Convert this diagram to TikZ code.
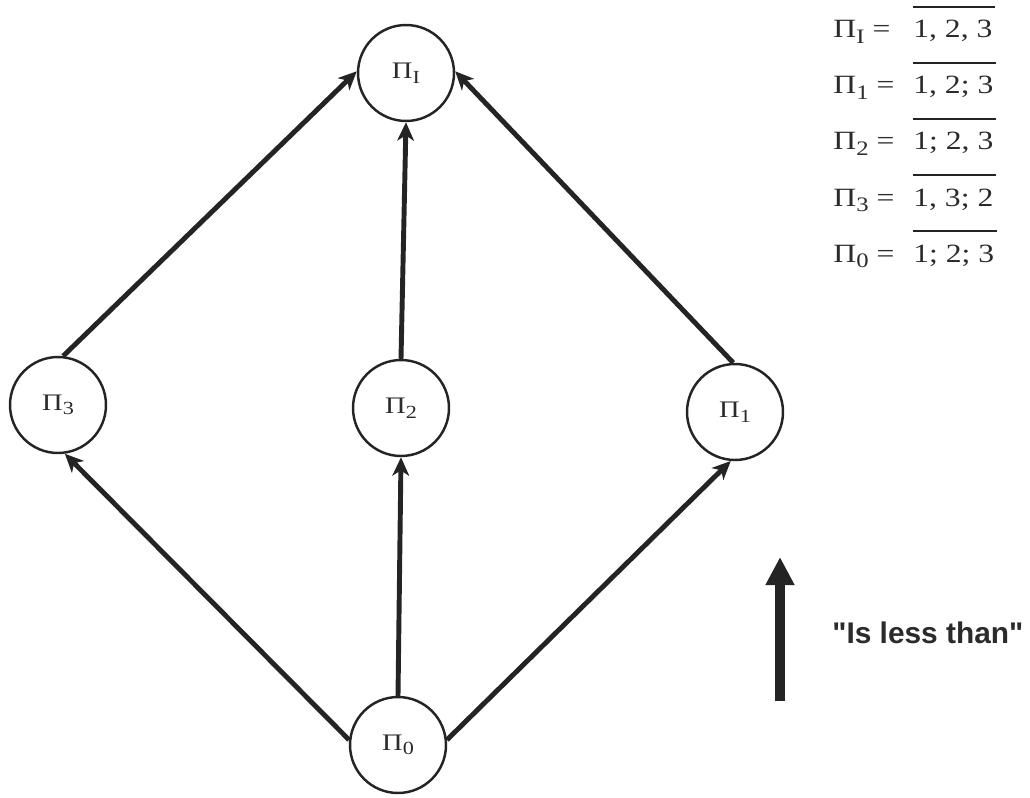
\documentclass[tikz,border=0pt]{standalone}
\usepackage{fontspec}
\usepackage{graphicx}
\setmainfont{Liberation Serif}
\newfontfamily\lgfont[FakeStretch=1.2]{Liberation Serif}
\newfontfamily\capfont{Liberation Sans}
\usetikzlibrary{arrows.meta}
\definecolor{ink}{HTML}{242424}
\definecolor{txt}{HTML}{2B2B2B}
% Pi with a lowered, slightly reduced index
\newcommand\Pisub[1]{Π\kern0.01em\raisebox{-0.42ex}{\scalebox{0.78}{#1}}}
\begin{document}
\begin{tikzpicture}[x=0.02cm,y=-0.02cm,
  state/.style={circle,draw=ink,line width=1.4pt,minimum size=1.92cm,inner sep=0pt,
    font=\lgfont\fontsize{13.5}{15}\selectfont,text=txt},
  edge/.style={draw=ink,line width=2.8pt,-{Stealth[length=10.5pt,width=9.5pt,inset=3pt]}},
  lhs/.style={anchor=base west,inner sep=0pt,font=\lgfont\fontsize{15}{18}\selectfont,text=txt},
  rhs/.style={lhs},
  bar/.style={draw=ink,line width=1.3pt},
  order/.style={draw=ink,line width=5.7pt,-{Triangle[length=16pt,width=15.5pt]}},
]
\useasboundingbox (0,0) rectangle (1030,797);

% partitions of {1,2,3}
\node[state] (pI) at (406,73)  {\Pisub{I}};
\node[state] (p3) at (58,405)  {\Pisub{3}};
\node[state] (p2) at (401,408) {\Pisub{2}};
\node[state] (p1) at (735,412) {\Pisub{1}};
\node[state] (p0) at (398,745) {\Pisub{0}};

% order relation
\draw[edge] (p0.174) -- (p3.278);
\draw[edge] (p0.north) -- (p2.south);
\draw[edge] (p0.6) -- (p1.265);
\draw[edge] (p3.84) -- (pI.178);
\draw[edge] (p2.north) -- (pI.south);
\draw[edge] (p1.92) -- (pI.2);

% definitions
\node[lhs] (lI) at (833,38)  {\Pisub{I} =};
\node[rhs] (vI) at (913,38)  {1, 2, 3};
\node[lhs] (l1) at (833,94)  {\Pisub{1} =};
\node[rhs] (v1) at (913,94)  {1, 2; 3};
\node[lhs] (l2) at (833,150) {\Pisub{2} =};
\node[rhs] (v2) at (913,150) {1; 2, 3};
\node[lhs] (l3) at (833,206) {\Pisub{3} =};
\node[rhs] (v3) at (913,206) {1, 3; 2};
\node[lhs] (l0) at (833,262) {\Pisub{0} =};
\node[rhs] (v0) at (913,262) {1; 2; 3};
\foreach \v in {vI,v1,v2,v3,v0}
  \draw[bar] ([yshift=17.6pt]\v.base west) -- ([yshift=17.6pt,xshift=1.5pt]\v.base east);

% legend arrow
\coordinate (ordA) at (780,701);
\coordinate (ordB) at (780,557);
\draw[order] (ordA) -- (ordB);
\node[anchor=west,inner sep=0pt,text=txt,font=\capfont\bfseries\fontsize{17}{20}\selectfont]
  (ordL) at (832,633) {"Is less than"};
\end{tikzpicture}
\end{document}
